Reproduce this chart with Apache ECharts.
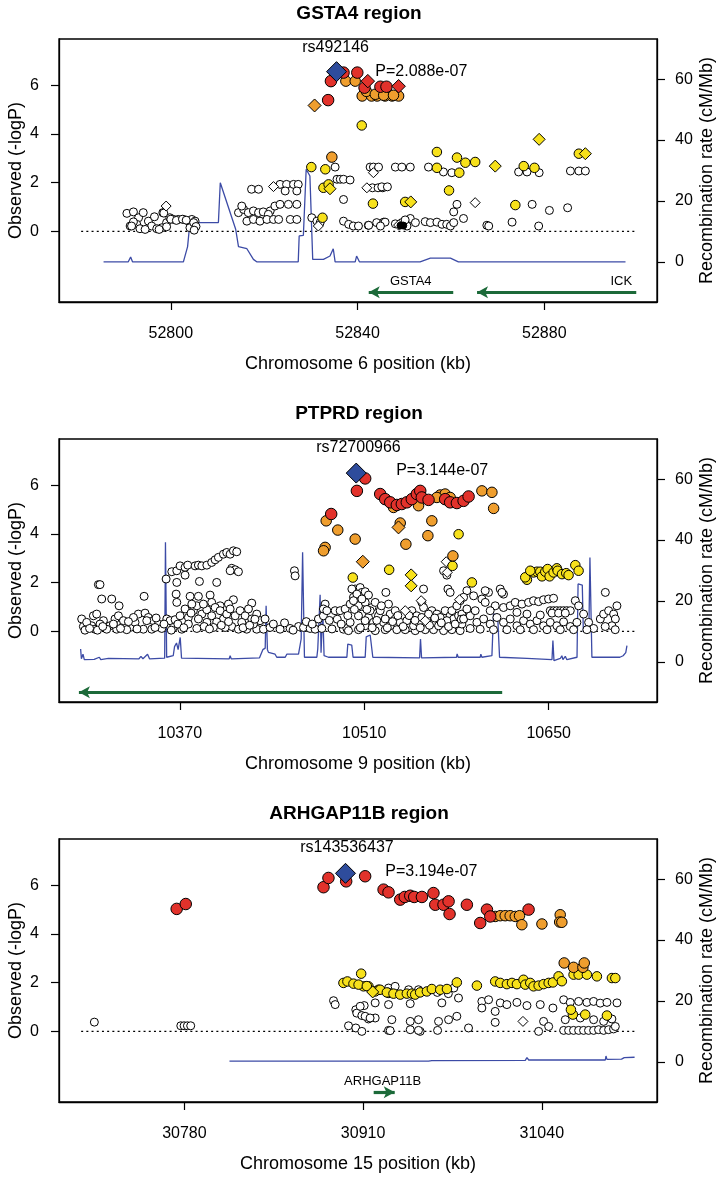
<!DOCTYPE html>
<html><head><meta charset="utf-8">
<script src="https://cdn.jsdelivr.net/npm/echarts@6/dist/echarts.min.js"></script>
<style>html,body{margin:0;padding:0;background:#fff}#c{width:718px;height:1178px}</style>
</head><body><div id="c"></div>
<script>
// ---------- text ----------
const titles = ['GSTA4 region', 'PTPRD region', 'ARHGAP11B region'];
const xNames = ['Chromosome 6 position (kb)', 'Chromosome 9 position (kb)', 'Chromosome 15 position (kb)'];
const yNameLeft = 'Observed (-logP)';
const yNameRight = 'Recombination rate (cM/Mb)';
const xTicks = [[52800, 52840, 52880], [10370, 10510, 10650], [30780, 30910, 31040]];
const xDataRange = [[52780.8, 52899.4], [10295.1, 10715.4], [30704.9, 31107.7]];
const yTicksLeft = [0, 2, 4, 6];
const yTicksRight = [0, 20, 40, 60];
const yRangeLeft = [-2.5, 7.5];
const yRangeRight = [-10, 70];
const snpNames = ['rs492146', 'rs72700966', 'rs143536437'];
const pLabels = ['P=2.088e-07', 'P=3.144e-07', 'P=3.194e-07'];
const snpLabelAt = [[52835.3, 7.54], [10505.6, 7.56], [30898.3, 7.53]];
const pLabelAt = [[52843.8, 6.58], [10534.2, 6.6], [30926.1, 6.58]];
const genes = [
  [{name: 'GSTA4', from: 52860.5, to: 52842.4, mid: 52851.4}, {name: 'ICK', from: 52899.7, to: 52865.6, mid: 52896.5}],
  [{name: '', from: 10614.7, to: 10293.4, mid: 10450}],
  [{name: 'ARHGAP11B', from: 30917.7, to: 30933.0, mid: 30924.2}]
];

// ---------- panel 1 : GSTA4 ----------
const p1_white = [[52790.6,0.74],[52792.0,0.80],[52793.1,0.56],[52794.1,0.77],[52791.3,0.22],[52792.7,0.29],[52793.4,0.11],[52795.2,0.42],[52795.9,0.22],[52797.0,0.11],[52798.1,0.15],[52798.3,0.77],[52799.1,0.36],[52799.8,0.56],[52800.6,0.49],[52801.6,0.49],[52802.7,0.49],[52803.8,0.42],[52804.5,0.49],[52805.2,0.42],[52804.1,0.15],[52794.5,0.08],[52792.0,0.39],[52799.1,0.19],[52796.5,0.6],[52797.5,0.08],[52798.5,0.75],[52800.0,0.5],[52801.2,0.45],[52802.5,0.5],[52803.3,0.46],[52804.9,0.36],[52805.4,0.2],[52805.0,0.05],[52791.6,0.22],
[52817.3,1.73],[52818.8,1.73],[52823.4,1.93],[52824.8,1.93],[52826.3,1.93],[52827.3,1.93],[52824.5,1.66],[52827.0,1.66],[52814.5,0.77],[52815.6,0.90],[52816.6,0.77],[52817.7,0.84],[52818.8,0.77],[52819.8,0.80],[52821.3,0.84],[52822.3,1.04],[52823.4,1.11],[52825.2,1.11],[52827.0,1.11],[52815.2,1.04],[52820.9,0.70],[52816.3,0.42],[52817.7,0.49],[52819.1,0.42],[52820.6,0.49],[52822.0,0.49],[52823.1,0.49],[52825.6,0.49],[52827.0,0.49],[52830.2,0.56],[52831.3,0.42],[52832.0,0.36],
[52835.2,2.64],[52835.6,2.14],[52836.3,2.14],[52837.0,2.14],[52838.4,2.11],[52837.0,1.31],[52842.7,2.64],[52843.4,2.64],[52843.2,1.79],[52844.4,1.79],[52845.4,1.79],[52837.0,0.42],[52838.1,0.29],[52839.1,0.22],[52840.2,0.22],[52842.3,0.25],[52844.1,0.36],[52845.6,0.38],
[52844.5,2.64],[52848.1,2.64],[52849.5,2.64],[52851.3,2.64],[52855.2,2.64],[52858.4,2.44],[52860.2,2.41],[52874.5,2.44],[52876.3,2.44],[52878.9,2.41],[52885.6,2.48],[52887.4,2.48],[52888.8,2.48],[52845.2,1.83],[52846.4,1.83],[52861.3,1.11],[52860.6,0.80],[52877.4,1.11],[52881.1,0.86],[52885.0,0.97],[52862.7,0.53],[52873.1,0.38],[52867.7,0.25],[52878.8,0.22],[52851.3,0.53],[52845.9,0.38],[52842.4,0.25],[52844.9,0.22],[52848.1,0.31],[52849.5,0.36],[52850.6,0.22],[52852.4,0.36],[52854.5,0.40],[52855.6,0.36],[52857.0,0.38],[52858.1,0.29],[52859.1,0.29],[52859.9,0.22],[52860.6,0.36],[52850.2,0.47],[52868.1,0.22]];
const p1_whiteDia = [[52799.0,1.04],[52842.0,1.79],[52843.4,2.41],[52831.6,0.22],[52865.2,1.18],[52822.0,1.84],[52848.8,0.26]];
const p1_yellow = [[52830.1,2.64],[52833.1,2.55],[52832.7,1.79],[52833.8,1.93],[52832.5,0.56],[52840.9,4.35],[52843.3,1.14],[52857.0,3.26],[52861.3,3.03],[52863.1,2.82],[52865.2,2.85],[52857.0,2.61],[52861.8,2.41],[52875.6,2.68],[52877.9,2.61],[52887.4,3.19],[52859.6,1.68],[52873.8,1.08],[52850.2,1.21]];
const p1_yellowDia = [[52834.1,1.75],[52869.5,2.68],[52878.9,3.78],[52888.8,3.19],[52851.4,1.21]];
const p1_orange = [[52834.5,3.05],[52837.5,6.17],[52839.5,6.17],[52841.0,5.56],[52843.0,5.56],[52844.2,5.56],[52845.9,5.56],[52847.4,5.56],[52848.8,5.56],[52841.9,5.75],[52843.8,5.63],[52845.6,5.59],[52847.7,5.59]];
const p1_orangeDia = [[52830.8,5.17]];
const p1_red = [[52834.3,6.17],[52837.0,6.52],[52839.95,6.52],[52841.5,5.9],[52844.9,5.94],[52846.2,5.94],[52833.7,5.39]];
const p1_redDia = [[52842.2,6.17],[52848.8,5.96]];
const p1_black = [[52844.3,5.58],[52844.9,5.58],[52849.2,0.24],[52849.8,0.24]];
const p1_top = [[52835.5,6.56]];
const p1_recomb = [[52785.6,0],[52790.9,0],[52791.4,1.6],[52791.8,0],[52802.7,0],[52803.6,5],[52804.1,12.9],[52810.2,12.9],[52810.6,26],[52813.9,10.7],[52814.5,5],[52816.3,4.3],[52817.7,0.8],[52818.4,0],[52827.3,0],[52827.5,8.5],[52828.4,8.7],[52829.0,30.4],[52829.8,28.2],[52830.4,0.8],[52832.7,0.8],[52834.1,1.9],[52834.8,4.3],[52835.2,0],[52839.5,0],[52839.8,1.9],[52840.4,0],[52853.4,0],[52855.6,1.2],[52859.9,1.2],[52861.6,0],[52897.4,0]];

// ---------- panel 2 : PTPRD ----------
const p2_white = [[10359.6,2.15],[10363.9,2.45],[10367.7,2.49],[10370.2,2.69],[10374.0,2.63],[10376.0,2.72],[10381.6,2.69],[10384.1,2.72],[10386.7,2.69],[10390.5,2.72],[10394.2,2.83],[10396.8,2.94],[10399.3,3.04],[10403.1,3.17],[10405.6,3.24],[10408.2,3.17],[10410.7,3.31],[10413.2,3.27],[10409.4,2.59],[10412.0,2.53],[10414.5,2.45],[10408.2,2.49],
[10308.2,1.92],[10309.4,1.92],[10310.7,1.33],[10318.3,1.33],[10323.9,1.05],[10342.9,1.44],[10367.7,2.01],[10374.0,2.31],[10384.9,2.05],[10398.0,2.01],[10367.2,1.53],[10367.7,1.19],[10377.8,1.44],[10384.1,1.44],[10393.0,1.49],[10394.2,1.19],[10410.7,1.30],[10424.6,1.16],[10400.6,1.05],[10406.9,1.12],
[10304.4,0.64],[10306.9,0.71],[10303.1,0.23],[10312.0,0.44],[10317.0,0.23],[10320.8,0.51],[10323.4,0.64],[10327.2,0.23],[10332.2,0.16],[10336.0,0.37],[10338.5,0.71],[10343.6,0.75],[10346.1,0.57],[10349.9,0.44],[10353.7,0.30],[10356.3,0.12],[10360.1,0.51],[10362.6,0.44],[10366.4,0.48],[10370.2,0.64],[10374.0,0.92],[10376.5,0.57],[10380.3,0.85],[10382.9,1.05],[10386.7,0.71],[10390.5,0.89],[10394.2,0.64],[10396.8,0.98],[10400.6,0.85],[10403.1,0.51],[10405.6,0.71],[10408.2,0.92],[10412.0,0.64],[10415.8,0.85],[10419.6,0.64],[10422.1,0.92],[10424.6,0.51],[10428.4,0.71],[10430.9,0.44],[10409.4,0.20],[10414.5,0.09],[10420.8,0.09],[10428.4,0.09],[10433.5,0.09],[10314.5,0.09],[10322.1,0.09],[10342.3,0.09],[10348.7,0.09],[10305.6,0.09],[10329.7,0.07],[10390.5,0.37],[10398.0,0.39],[10376.5,0.30],[10295.5,0.51],[10296.8,0.20],[10299.3,0.37],[10309.4,0.30],[10319.6,0.30],[10327.2,0.44],[10334.8,0.57],[10344.9,0.44],[10351.2,0.16],[10365.1,0.16],[10379.1,1.12],[10387.9,1.12],[10384.1,0.51],[10417.0,0.37],[10425.9,0.30],[10371.5,0.09],[10382.9,0.12],[10395.5,0.16],[10404.4,0.16],
[10298.0,0.05],[10301.5,0.12],[10307.5,0.05],[10311.5,0.2],[10325.0,0.12],[10331.0,0.4],[10337.5,0.1],[10352.0,0.55],[10358.0,0.3],[10363.5,0.05],[10368.5,0.3],[10373.0,0.15],[10378.5,0.75],[10388.5,0.2],[10392.5,0.1],[10401.5,0.25],[10407.0,0.4],[10418.0,0.15],[10423.0,0.25],[10427.0,0.5],
[10457.0,2.49],[10457.5,2.28],[10434.7,0.51],[10438.5,0.16],[10446.1,0.09],[10453.7,0.12],[10460.1,0.20],[10463.9,0.16],[10468.9,0.12],[10472.7,0.09],[10477.8,0.12],[10475.2,0.51],[10479.0,0.64],[10480.3,1.12],[10479.0,0.92],[10481.6,0.85],[10487.9,0.85],[10491.7,0.85],[10495.5,0.92],[10494.2,0.09],[10496.8,0.12],[10499.3,0.37],[10499.3,1.12],[10501.8,1.40],[10503.1,1.74],[10506.9,1.80],[10508.2,1.60],[10510.7,1.63],[10513.2,1.49],[10505.6,1.05],[10510.7,1.19],[10515.8,0.98],[10508.2,0.71],[10513.2,0.57],[10517.0,0.37],[10510.7,0.23],[10520.8,0.64],[10524.6,0.37],[10526.4,1.60],[10528.4,1.12],[10529.7,0.71],[10533.5,0.51],[10538.5,0.64],[10546.1,0.85],[10549.9,0.64],[10553.7,1.19],[10555.0,0.98],[10557.5,0.51],[10561.3,0.85],[10565.1,0.71],[10567.7,0.57],[10571.4,0.85],[10575.2,0.64],[10577.8,0.51],[10581.6,0.64],[10584.1,0.71],[10585.4,0.51],[10555.0,1.74],[10573.5,1.74],[10575.2,1.60],[10570.2,2.49],[10572.7,2.31],[10582.8,1.26],[10498.0,0.03],[10505.6,0.07],[10518.3,0.03],[10525.9,0.07],[10534.7,0.07],[10541.1,0.07],[10548.7,0.03],[10556.3,0.07],[10562.6,0.07],[10570.2,0.03],[10576.5,0.07],[10582.8,0.03],[10500.6,1.74],[10504.4,1.53],[10501.8,1.26],[10508.2,1.33],[10505.6,0.64],[10510.7,0.44],[10514.5,0.85],[10518.3,1.19],[10522.1,0.85],[10525.9,0.51],[10529.7,0.23],[10533.5,0.85],[10537.3,0.37],[10542.3,0.44],[10547.4,0.23],[10551.2,0.37],[10553.7,0.57],[10558.8,0.71],[10562.6,0.37],[10566.4,0.23],[10572.7,0.44],[10576.5,0.85],[10580.3,1.05],[10584.1,0.30],
[10441.0,0.3],[10449.5,0.35],[10456.0,0.05],[10466.0,0.4],[10470.5,0.3],[10483.5,0.45],[10485.5,0.1],[10489.5,0.5],[10492.5,0.3],[10497.5,0.65],[10502.5,0.9],[10507.0,0.15],[10512.0,0.9],[10516.0,0.15],[10519.5,0.45],[10523.0,1.05],[10527.5,0.15],[10531.5,0.4],[10535.5,0.65],[10539.5,0.2],[10544.0,0.65],[10548.5,0.45],[10552.5,0.15],[10559.5,0.25],[10563.5,0.55],[10568.5,0.35],[10574.0,0.2],[10579.0,0.3],[10583.5,0.5],
[10587.9,1.67],[10593.0,1.46],[10599.3,1.33],[10604.3,1.60],[10613.2,1.74],[10615.7,1.53],[10601.8,1.19],[10609.4,1.05],[10615.7,0.98],[10620.8,1.05],[10624.6,1.19],[10629.7,1.12],[10634.7,1.19],[10638.5,1.26],[10642.3,1.22],[10646.1,1.30],[10649.9,1.33],[10653.7,1.36],[10670.2,1.26],[10672.7,1.05],[10651.2,0.85],[10653.7,0.85],[10656.2,0.85],[10658.8,0.85],[10661.3,0.85],[10663.8,0.85],[10666.4,0.85],[10652.5,0.75],[10657.5,0.75],[10662.6,0.75],[10585.4,0.51],[10590.4,0.64],[10595.5,0.37],[10600.6,0.51],[10605.6,0.30],[10610.7,0.57],[10615.7,0.37],[10620.8,0.51],[10625.9,0.23],[10630.9,0.44],[10636.0,0.30],[10641.1,0.44],[10646.1,0.23],[10651.2,0.37],[10656.2,0.23],[10661.3,0.39],[10666.4,0.20],[10671.4,0.37],[10676.5,0.71],[10680.3,0.37],[10684.1,0.12],[10689.2,0.51],[10691.7,0.71],[10695.5,0.85],[10699.3,0.71],[10701.8,1.05],[10700.6,0.51],[10698.0,0.23],[10692.9,0.20],[10590.4,0.12],[10598.0,0.09],[10608.1,0.07],[10618.3,0.07],[10628.4,0.07],[10638.5,0.07],[10648.7,0.07],[10658.8,0.07],[10668.9,0.07],[10679.0,0.07],[10700.5,0.07],[10693.0,1.60],[10585.4,1.40],[10601.8,1.67],[10614.5,1.60],[10594.2,0.85],[10587.9,0.92],[10605.6,0.85],[10625.9,0.78],[10633.5,0.71],[10643.6,0.67]];
const p2_whiteDia = [[10553.2,1.26],[10541.1,0.85],[10556.3,0.44],[10572.2,2.86],[10573.0,2.42],[10582.3,1.30]];
const p2_yellow = [[10501.3,2.21],[10528.9,2.53],[10581.6,3.99],[10591.7,2.01],[10577.0,2.69],[10633.5,2.12],[10632.2,2.22],[10638.5,2.42],[10641.1,2.45],[10636.0,2.49],[10643.6,2.45],[10644.9,2.26],[10647.4,2.45],[10649.2,2.56],[10650.7,2.26],[10653.7,2.42],[10656.2,2.59],[10656.8,2.49],[10660.1,2.35],[10663.3,2.39],[10665.1,2.31],[10670.2,2.72],[10672.7,2.49]];
const p2_yellowDia = [[10545.6,2.32],[10545.6,1.87]];
const p2_orange = [[10481.1,4.54],[10489.9,4.16],[10503.1,3.79],[10480.3,3.45],[10479.1,3.31],[10532.2,5.09],[10551.2,5.16],[10567.6,5.60],[10571.4,5.64],[10575.2,5.50],[10565.1,5.50],[10599.3,5.77],[10606.9,5.71],[10608.2,5.05],[10537.3,4.45],[10561.3,4.54],[10558.3,3.93],[10541.6,3.58],[10577.3,3.10]];
const p2_orangeDia = [[10508.9,2.86],[10536.0,4.27]];
const p2_red = [[10510.7,6.28],[10504.4,5.77],[10484.9,4.82],[10522.1,5.64],[10525.9,5.43],[10529.7,5.30],[10534.7,5.19],[10538.5,5.23],[10542.3,5.30],[10546.1,5.43],[10549.9,5.64],[10552.5,5.77],[10553.7,5.50],[10558.8,5.40],[10571.4,5.43],[10575.2,5.30],[10580.3,5.27],[10585.4,5.36],[10589.2,5.54]];
const p2_redDia = [];
const p2_black = [];
const p2_top = [[10503.9,6.50]];
const p2_recomb = [[10294.7,4.2],[10295.3,1.0],[10296.5,2.5],[10297.5,0.7],[10305.0,0.8],[10308.9,1.5],[10310.0,0.7],[10315.8,1.1],[10317.0,0.7],[10339.0,1.0],[10340.5,1.8],[10342.0,1.0],[10345.5,2.5],[10347.0,1.0],[10358.5,1.2],[10359.1,39.3],[10360.0,1.5],[10365.0,2.0],[10366.0,5.0],[10367.5,6.2],[10368.7,4.0],[10370.3,8.0],[10371.3,1.2],[10407.5,1.0],[10408.2,2.0],[10409.0,1.0],[10430.5,1.3],[10433.0,4.0],[10434.8,4.5],[10435.5,18.4],[10436.5,4.0],[10437.3,3.1],[10442.3,2.5],[10443.6,1.5],[10450.0,1.5],[10451.2,2.5],[10460.1,2.5],[10462.1,7.5],[10463.2,36.0],[10464.6,1.5],[10474.0,1.5],[10474.7,4.2],[10476.0,4.0],[10476.5,22.0],[10477.2,3.0],[10478.5,17.0],[10479.5,2.0],[10482.8,1.5],[10496.8,1.5],[10497.5,5.8],[10500.5,5.5],[10501.5,1.5],[10510.7,1.5],[10511.5,8.2],[10514.5,8.8],[10516.5,1.5],[10552.0,1.3],[10552.7,7.5],[10553.5,1.3],[10580.0,1.5],[10580.5,2.6],[10581.3,1.5],[10598.0,1.5],[10598.5,2.5],[10599.3,1.5],[10606.9,2.0],[10608.1,15.7],[10611.2,15.7],[10612.7,1.5],[10633.5,1.1],[10652.5,0.7],[10653.2,7.0],[10654.0,0.4],[10658.8,1.1],[10660.0,2.0],[10660.8,0.7],[10662.6,1.8],[10663.8,0.7],[10671.5,1.5],[10672.3,25.6],[10675.5,25.2],[10676.3,10.0],[10680.5,10.0],[10681.3,34.3],[10682.8,1.5],[10704.0,1.5],[10706.5,2.0],[10708.5,3.0],[10709.4,5.3]];

// ---------- panel 3 : ARHGAP11B ----------
const p3_white = [[30714.5,0.38],[30777.4,0.23],[30779.8,0.23],[30782.2,0.23],[30784.6,0.23],[30888.5,1.26],[30889.7,1.10],[30904.7,0.89],[30905.4,0.75],[30909.1,0.65],[30910.8,1.06],[30913.9,0.51],[30918.8,0.55],[30918.8,1.17],[30928.5,1.10],[30899.4,0.23],[30904.7,0.14],[30909.1,0.0],[30928.5,0.04],
[30907.9,1.03],[30944.3,1.14],[30967.3,1.17],[30979.4,1.37],[30996.4,1.23],[30996.4,0.96],[31006.1,0.82],[31009.8,1.17],[31014.6,1.10],[31021.9,1.19],[31029.2,1.06],[31038.9,1.10],[31048.1,0.96],[31055.9,1.30],[31060.7,1.19],[31066.8,1.23],[31072.8,1.19],[31077.7,1.23],[31082.5,1.16],[31087.4,1.19],[31094.7,1.17],[31001.3,1.30],
[30928.5,1.78],[30933.3,1.85],[30943.1,1.71],[30950.3,1.71],[30964.0,1.60],[30972.0,1.55],[30976.0,1.78],
[30911.5,0.62],[30915.1,0.55],[30930.9,0.48],[30944.3,0.41],[30950.3,0.48],[30951.5,0.0],[30964.9,0.41],[30972.2,0.48],[30978.2,0.62],[30986.7,0.14],[31006.1,0.37],[31037.7,0.0],[31041.3,0.41],[31045.0,0.20],
[31055.9,0.04],[31059.5,0.04],[31063.1,0.04],[31066.8,0.04],[31070.4,0.04],[31074.0,0.04],[31077.7,0.04],[31081.3,0.07],[31085.0,0.04],[31088.6,0.07],[31092.2,0.10],[31057.1,0.48],[31068.0,0.55],[31077.7,0.48],[31085.0,0.41],[31091.0,0.51],[31093.5,0.20],[30929.7,0.03],[30944.3,0.07],[30950.3,0.04],[30964.2,0.04]];
const p3_whiteDia = [[31026.3,0.41]];
const p3_yellow = [[30895.7,1.99],[30898.6,2.05],[30903.0,1.96],[30908.6,2.37],[30910.3,1.85],[30913.9,1.85],[30921.2,1.71],[30928.5,1.58],[30906.7,1.92],[30912.7,1.86],[30918.8,1.64],[30922.4,1.71],[30927.3,1.60],[30932.1,1.55],[30937.0,1.51],[30941.8,1.55],[30945.5,1.55],[30947.9,1.51],[30951.5,1.60],[30956.4,1.64],[30960.0,1.74],[30966.1,1.71],[30971.0,1.74],[30978.2,2.01],[30992.8,1.88],[31006.1,2.05],[31009.8,1.99],[31014.6,1.94],[31018.3,1.99],[31021.9,1.94],[31026.7,2.12],[31028.0,1.92],[31031.6,1.99],[31034.0,1.85],[31037.7,1.88],[31041.3,1.94],[31045.0,1.99],[31048.1,2.01],[31052.2,2.26],[31054.6,2.06],[31063.1,2.33],[31066.8,2.33],[31072.8,2.33],[31080.1,2.26],[31091.0,2.19],[31093.5,2.19],[31062.6,0.69],[31071.6,0.69],[31087.4,0.65],[31061.2,0.89]];
const p3_yellowDia = [[30917.0,1.62]];
const p3_orange = [[31006.1,4.72],[31009.8,4.75],[31013.4,4.75],[31017.0,4.75],[31020.7,4.72],[31023.8,4.75],[31025.5,4.38],[31040.1,4.41],[31053.4,4.79],[31053.0,4.49],[31054.6,4.48],[31056.3,2.81],[31063.1,2.63],[31069.9,2.63],[31070.9,2.81]];
const p3_orangeDia = [];
const p3_red = [[30774.4,5.03],[30781.0,5.23],[30881.2,5.92],[30884.8,6.30],[30897.7,6.16],[30911.5,6.37],[30924.9,5.82],[30928.5,5.71],[30937.0,5.41],[30940.3,5.52],[30944.3,5.57],[30947.2,5.52],[30952.8,5.52],[30961.2,5.68],[30962.5,5.20],[30968.5,5.20],[30972.2,5.34],[30972.9,4.82],[30985.5,5.20],[31000.1,5.00],[30995.2,4.45],[31002.5,4.72],[31030.4,5.00]];
const p3_redDia = [];
const p3_black = [[30943.5,5.5],[30945.0,5.5],[30946.0,5.5]];
const p3_top = [[30897.2,6.49]];
const p3_recomb = [[30812.8,0.2],[30957.6,0.2],[30958.8,0.8],[30960.0,0.4],[31028.0,0.5],[31029.2,1.4],[31030.5,0.6],[31086.2,0.6],[31086.7,1.9],[31087.4,0.8],[31098.0,0.9],[31100.0,1.4],[31107.5,1.5]];

// ---------- building the chart ----------
const panels = [
  {white: p1_white, whiteDia: p1_whiteDia, yellow: p1_yellow, yellowDia: p1_yellowDia, orange: p1_orange, orangeDia: p1_orangeDia, red: p1_red, redDia: p1_redDia, black: p1_black, top: p1_top, recomb: p1_recomb},
  {white: p2_white, whiteDia: p2_whiteDia, yellow: p2_yellow, yellowDia: p2_yellowDia, orange: p2_orange, orangeDia: p2_orangeDia, red: p2_red, redDia: p2_redDia, black: p2_black, top: p2_top, recomb: p2_recomb},
  {white: p3_white, whiteDia: p3_whiteDia, yellow: p3_yellow, yellowDia: p3_yellowDia, orange: p3_orange, orangeDia: p3_orangeDia, red: p3_red, redDia: p3_redDia, black: p3_black, top: p3_top, recomb: p3_recomb}
];

const FONT = '"Liberation Sans", Arial, Helvetica, sans-serif';
const GRID_TOP = [39, 439, 839];
const GRID_LEFT = 59, GRID_W = 598, GRID_H = 263;
const C = {white: '#ffffff', yellow: '#F7E11B', orange: '#EF9E2E', red: '#E2322B', blue: '#2E4C9C', line: '#3C4BA6', green: '#1C6A39'};
const ARROW_Y = -2.5, GENE_LABEL_Y = -2.04;

function expand(r) { const d = (r[1] - r[0]) * 0.04; return [r[0] - d, r[1] + d]; }
const yl = expand(yRangeLeft), yr = expand(yRangeRight);
const plain = v => String(v);

const option = {
  animation: false,
  backgroundColor: '#fff',
  textStyle: {fontFamily: FONT},
  title: titles.map((t, i) => ({text: t, left: 'center', top: GRID_TOP[i] - 35, padding: 0,
    textStyle: {fontFamily: FONT, fontWeight: 'bold', fontSize: 19, color: '#000'}})),
  grid: GRID_TOP.map(t => ({left: GRID_LEFT, top: t, width: GRID_W, height: GRID_H, show: true,
    outerBoundsMode: 'none', containLabel: false,
    borderColor: '#000', borderWidth: 1.3, backgroundColor: 'transparent'})),
  xAxis: [], yAxis: [], series: []
};

const tickStyle = {show: true, inside: false, length: 8, lineStyle: {color: '#000', width: 1.2}};
const labStyle = {fontFamily: FONT, fontSize: 16, color: '#000', formatter: plain};
const nameStyle = {fontFamily: FONT, fontSize: 18, color: '#000'};

function scatter(i, data, symbol, size, color, z) {
  return {type: 'scatter', xAxisIndex: i, yAxisIndex: 2 * i, data: data, symbol: symbol, symbolSize: size,
    itemStyle: {color: color, borderColor: '#000', borderWidth: 1, opacity: 1}, z: z, silent: true};
}
function textMark(i, at, text, pos, size, z) {
  return {type: 'scatter', xAxisIndex: i, yAxisIndex: 2 * i, data: [at], symbolSize: 0, silent: true, z: z,
    itemStyle: {opacity: 1},
    label: {show: true, position: pos, distance: 0, formatter: text, fontFamily: FONT, fontSize: size, color: '#000', opacity: 1}};
}

panels.forEach((p, i) => {
  const xr = expand(xDataRange[i]);
  option.xAxis.push({type: 'value', gridIndex: i, min: xr[0], max: xr[1], position: 'bottom',
    name: xNames[i], nameLocation: 'middle', nameGap: 53, nameMoveOverlap: false, nameTextStyle: nameStyle,
    axisLine: {show: true, onZero: false, lineStyle: {color: '#000', width: 1.3}},
    axisTick: Object.assign({customValues: xTicks[i]}, tickStyle),
    axisLabel: Object.assign({customValues: xTicks[i], margin: 24}, labStyle),
    splitLine: {show: false}});
  option.yAxis.push({type: 'value', gridIndex: i, min: yl[0], max: yl[1], position: 'left',
    name: yNameLeft, nameLocation: 'middle', nameGap: 34, nameMoveOverlap: false, nameTextStyle: nameStyle,
    axisLine: {show: true, onZero: false, lineStyle: {color: '#000', width: 1.3}},
    axisTick: Object.assign({customValues: yTicksLeft}, tickStyle),
    axisLabel: Object.assign({customValues: yTicksLeft, margin: 20}, labStyle),
    splitLine: {show: false}});
  option.yAxis.push({type: 'value', gridIndex: i, min: yr[0], max: yr[1], position: 'right',
    name: yNameRight, nameLocation: 'middle', nameGap: 41, nameMoveOverlap: false, nameTextStyle: nameStyle,
    axisLine: {show: true, onZero: false, lineStyle: {color: '#000', width: 1.3}},
    axisTick: Object.assign({customValues: yTicksRight}, tickStyle),
    axisLabel: Object.assign({customValues: yTicksRight, margin: 18}, labStyle),
    splitLine: {show: false}});

  option.series.push({type: 'line', xAxisIndex: i, yAxisIndex: 2 * i, data: [[xDataRange[i][0], 0], [xDataRange[i][1], 0]],
    symbol: 'none', silent: true, lineStyle: {color: '#000', width: 1.4, type: [2, 3.2]}, z: 1});
  option.series.push({type: 'line', xAxisIndex: i, yAxisIndex: 2 * i + 1, data: p.recomb, symbol: 'none', silent: true,
    lineStyle: {color: C.line, width: 1.3}, z: 2});
  genes[i].forEach(g => {
    option.series.push({type: 'line', xAxisIndex: i, yAxisIndex: 2 * i, data: [[g.from, ARROW_Y], [g.to, ARROW_Y]],
      symbol: 'none', silent: true, lineStyle: {opacity: 0}, z: 3,
      markLine: {silent: true, symbol: ['none', 'arrow'], symbolSize: [9, 11], label: {show: false},
        lineStyle: {color: C.green, width: 3.2, type: 'solid'},
        data: [[{coord: [g.from, ARROW_Y]}, {coord: [g.to, ARROW_Y]}]]}});
    if (g.name) option.series.push(textMark(i, [g.mid, GENE_LABEL_Y], g.name, 'inside', 13, 3));
  });
  option.series.push(scatter(i, p.white, 'circle', 8, C.white, 5));
  option.series.push(scatter(i, p.whiteDia, 'diamond', 10, C.white, 5));
  option.series.push(scatter(i, p.black, 'circle', 7, '#000', 5));
  option.series.push(scatter(i, p.yellow, 'circle', 9.5, C.yellow, 6));
  option.series.push(scatter(i, p.yellowDia, 'diamond', 12, C.yellow, 6));
  option.series.push(scatter(i, p.orange, 'circle', 10.5, C.orange, 7));
  option.series.push(scatter(i, p.orangeDia, 'diamond', 13, C.orange, 7));
  option.series.push(scatter(i, p.red, 'circle', 11.5, C.red, 8));
  option.series.push(scatter(i, p.redDia, 'diamond', 13.5, C.red, 8));
  option.series.push(scatter(i, p.top, 'diamond', 20, C.blue, 9));
  option.series.push(textMark(i, snpLabelAt[i], snpNames[i], 'inside', 16, 10));
  option.series.push(textMark(i, pLabelAt[i], pLabels[i], 'right', 16, 10));
});

const chart = echarts.init(document.getElementById('c'), null, {renderer: 'canvas'});
chart.setOption(option);
</script>
</body></html>
